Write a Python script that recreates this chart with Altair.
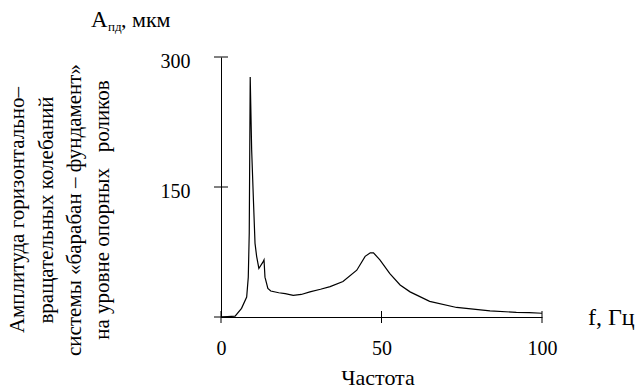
import altair as alt
import pandas as pd

# Data
freq = [0, 2, 4.4, 6.4, 8.0, 8.5, 8.8, 9.1, 9.55, 10.1, 10.6, 11.1, 11.8, 13.0, 13.4, 13.7,
        14.6, 15.5, 18, 20, 22.5, 25, 27.7, 31, 34, 38, 42.3, 44.9, 46.5, 47.5, 49.5, 52.6,
        55.8, 58.9, 65, 73.4, 83.8, 92, 96, 100]
ampl = [0, 0.5, 1, 10, 23, 46, 97, 277, 193, 135, 85, 70, 56, 63, 66, 46,
        33, 30, 28, 27, 25, 26, 29, 32, 35, 41, 54, 70, 74, 74, 66, 50,
        37, 29, 18, 11, 7, 5.4, 5, 4.3]
x_ticks = [0, 50, 100]
y_ticks = [0, 150, 300]
y_labels = [150, 300]

ylab_lines = ["Амплитуда горизонтально–",
              "вращательных колебаний",
              "системы «барабан – фундамент»",
              "на уровне опорных\u00a0\u00a0\u00a0роликов"]

FONT = "'Liberation Serif', 'Times New Roman', serif"
W, H = 321, 260

df = pd.DataFrame({"f": freq, "A": ampl})
xs = alt.Scale(domain=[0, 100], nice=False)
ys = alt.Scale(domain=[0, 300], nice=False)

line = alt.Chart(df).mark_line(color="black", strokeWidth=1.2).encode(
    x=alt.X("f:Q", scale=xs, axis=alt.Axis(values=x_ticks, title=None, grid=False, tickSize=0,
                                         labelPadding=21, labelFont=FONT, labelFontSize=20,
                                         labelColor="black", domainColor="black", labelFlush=False)),
    y=alt.Y("A:Q", scale=ys, axis=alt.Axis(values=y_labels, title=None, grid=False, tickSize=0,
                                         labelPadding=31, labelFont=FONT, labelFontSize=20,
                                         labelColor="black", domainColor="black", labelOffset=4)),
)

xt = alt.Chart(pd.DataFrame({"t": x_ticks})).mark_rule(color="black").encode(
    x=alt.X("t:Q", scale=xs), y=alt.value(H - 6), y2=alt.value(H + 6))
yt = alt.Chart(pd.DataFrame({"t": y_ticks})).mark_rule(color="black").encode(
    y=alt.Y("t:Q", scale=ys), x=alt.value(-7), x2=alt.value(7))

texts = []
def txt(s, x, y, size=19, angle=0, align="left", baseline="alphabetic"):
    kw = dict(text=s, font=FONT, fontSize=size, align=align, baseline=baseline, color="black")
    if angle:
        kw["angle"] = angle
    return alt.Chart(pd.DataFrame({"a": [0]})).mark_text(**kw).encode(
        x=alt.value(x), y=alt.value(y))

cols = [-203, -174, -146, -118]
for s, cx in zip(ylab_lines, cols):
    texts.append(txt(s, cx, 153, size=21, angle=270, align="center", baseline="middle"))

texts.append(txt("А", -130, -30, size=23))
texts.append(txt("пд", -113, -26, size=13))
texts.append(txt(", мкм", -100, -30, size=22))
texts.append(txt("f,\u00a0Гц", 367, H + 8, size=24))
texts.append(txt("Частота", 157, H + 68, size=22, align="center"))

chart = alt.layer(line, xt, yt, *texts).properties(
    width=W, height=H,
    autosize=alt.AutoSizeParams(type="none"),
    padding={"left": 221, "top": 57, "right": 100, "bottom": 73},
    background="white",
).configure_view(stroke=None)

chart.save("out.html", embed_options={"renderer": "svg", "actions": False})
